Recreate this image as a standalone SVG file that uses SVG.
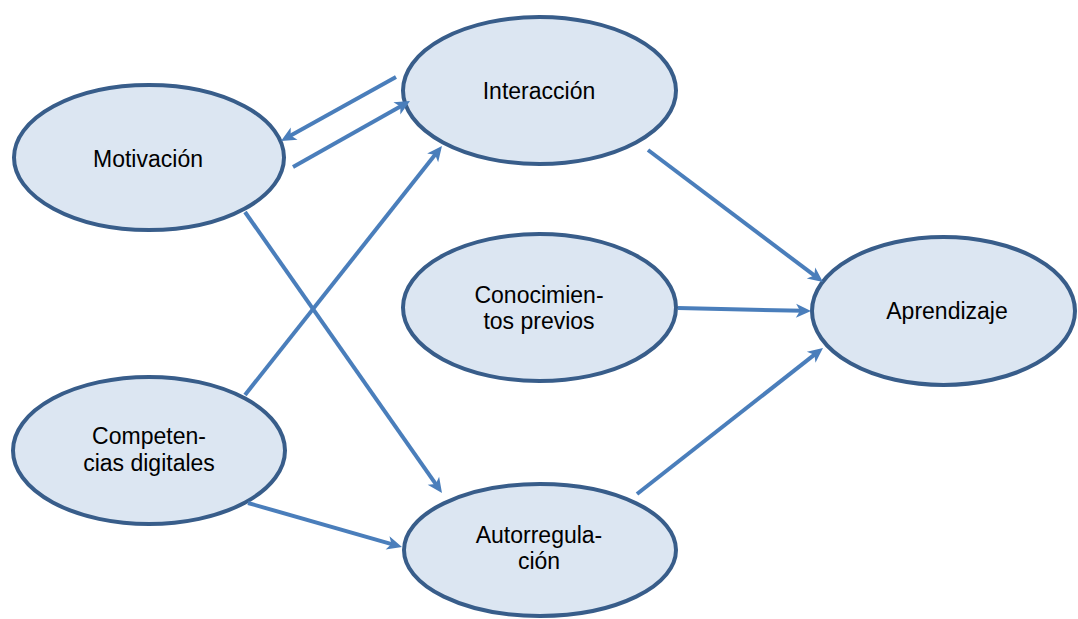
<svg xmlns="http://www.w3.org/2000/svg" width="1078" height="619" viewBox="0 0 1078 619">
<style>
.node ellipse{fill:#DCE6F2;stroke:#385D8A;stroke-width:4}
.node text{font-family:"Liberation Sans",Arial,sans-serif;font-size:23px;fill:#000;text-anchor:middle}
#connectors line{stroke:#4A7EBB;stroke-width:4;fill:none;marker-end:url(#arr)}
</style>
<defs>
<marker id="arr" markerUnits="userSpaceOnUse" viewBox="-8 -8 17 16" refX="0" refY="0" markerWidth="17" markerHeight="16" orient="auto">
<path d="M8,0 L-7,-7 L-3,0 L-7,7 Z" fill="#4A7EBB"/>
</marker>
</defs>
<rect width="1078" height="619" fill="#fff"/>
<g id="n-motivacion" class="node"><ellipse cx="149" cy="157.5" rx="135" ry="72.5"/><text x="148" y="167">Motivación</text></g>
<g id="n-interaccion" class="node"><ellipse cx="539.5" cy="90.5" rx="136.5" ry="73.5"/><text x="539" y="99">Interacción</text></g>
<g id="n-conocimientos" class="node"><ellipse cx="539.5" cy="307.5" rx="136.5" ry="73.5"/><text x="539" y="303">Conocimien-</text><text x="539" y="329">tos previos</text></g>
<g id="n-aprendizaje" class="node"><ellipse cx="943.5" cy="311" rx="131.5" ry="74"/><text x="947" y="319">Aprendizaje</text></g>
<g id="n-competencias" class="node"><ellipse cx="149" cy="450.5" rx="136" ry="73.5"/><text x="149" y="444">Competen-</text><text x="149" y="471">cias digitales</text></g>
<g id="n-autorregulacion" class="node"><ellipse cx="540" cy="550" rx="136" ry="66"/><text x="539" y="543">Autorregula-</text><text x="539" y="569">ción</text></g>
<g id="connectors">
<line x1="396" y1="77" x2="288" y2="137"/>
<line x1="293" y1="167" x2="403" y2="105"/>
<line x1="245" y1="395" x2="437" y2="152.3"/>
<line x1="245" y1="212" x2="437.4" y2="486.4"/>
<line x1="248" y1="503" x2="394.3" y2="544.8"/>
<line x1="648" y1="150" x2="816.6" y2="277.2"/>
<line x1="678" y1="308" x2="803" y2="310.8"/>
<line x1="637" y1="494" x2="816.7" y2="352.9"/>
</g>
</svg>
